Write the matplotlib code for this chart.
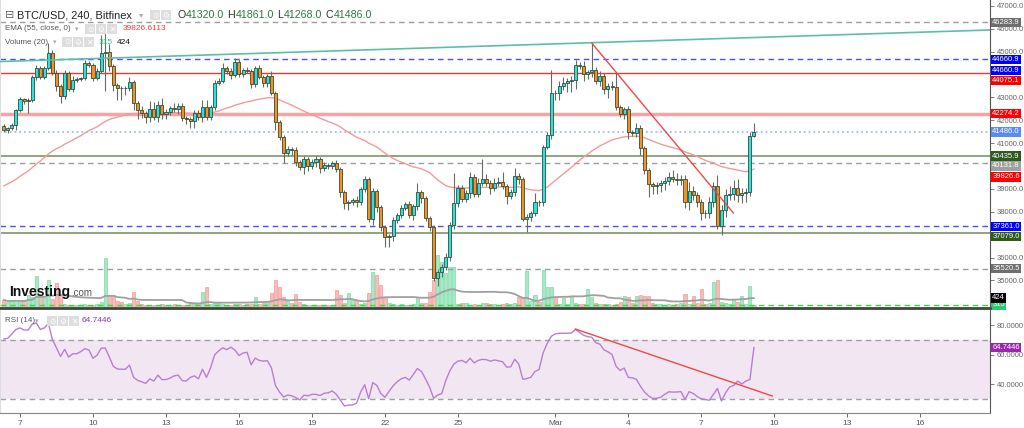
import numpy as np
import pandas as pd
import matplotlib
matplotlib.use('Agg')
import matplotlib.pyplot as plt
import matplotlib.dates as mdates
from matplotlib.patches import Rectangle

plt.rcParams['font.family'] = ['Liberation Sans', 'DejaVu Sans']

# ---- data (BTC/USD 4h candles, Bitfinex) ----
start_time = '2022-02-06 08:00'
first_open = 41750
closes = [41570, 41660, 41790, 42450, 42930, 42840, 42880, 43890, 44280, 43890,
          44280, 44930, 44060, 43490, 43060, 44060, 43360, 43760, 43800, 43840,
          44500, 44410, 43840, 44150, 44930, 44980, 44370, 43540, 43410, 43400,
          43420, 43670, 42750, 42450, 42310, 42140, 42490, 42140, 42660, 42270,
          42360, 42530, 42490, 42620, 42100, 42050, 41970, 42310, 42140, 42580,
          42140, 42580, 43620, 43710, 44280, 44150, 43970, 44540, 44020, 44190,
          44150, 43580, 44280, 43890, 43620, 43930, 43190, 41920, 41270, 40570,
          40740, 40700, 40170, 39960, 40300, 40000, 40170, 40300, 39910, 40040,
          40000, 40130, 39870, 38860, 38380, 38430, 38520, 38430, 39000, 39430,
          37690, 38910, 38210, 37340, 36900, 36940, 37640, 37860, 38170, 38340,
          37860, 38250, 38860, 38600, 37730, 37340, 35110, 35370, 35590, 36030,
          37420, 38380, 39040, 38560, 38820, 39520, 38780, 39260, 39430, 39260,
          39040, 39260, 39300, 39130, 38690, 38860, 39560, 39430, 37690, 37770,
          37950, 38430, 38420, 40830, 41350, 43190, 43170, 43490, 43620, 43710,
          43760, 44410, 44370, 44020, 44100, 44190, 43710, 43930, 43360, 43490,
          43450, 42580, 42270, 42490, 41490, 41460, 41660, 40790, 39830, 39210,
          39130, 39170, 39260, 39350, 39520, 39430, 39390, 39420, 38430, 38910,
          38730, 38430, 37950, 37940, 38430, 39130, 37380, 38080, 38730, 38780,
          39040, 38730, 38820, 38860, 41320, 41486]
wick_up = [100, 60, 80, 60, 80, 60, 80, 100, 120, 80,
           100, 440, 150, 120, 100, 150, 100, 150, 100, 60,
           150, 100, 100, 150, 790, 880, 350, 100, 100, 80,
           80, 200, 80, 100, 150, 100, 350, 300, 200, 300,
           150, 100, 200, 150, 150, 100, 100, 150, 120, 300,
           300, 100, 150, 150, 220, 100, 120, 180, 150, 100,
           120, 100, 100, 150, 100, 100, 220, 100, 100, 100,
           120, 100, 150, 100, 150, 100, 150, 120, 100, 120,
           100, 100, 150, 80, 100, 100, 100, 150, 100, 150,
           100, 120, 100, 100, 100, 100, 150, 100, 120, 100,
           150, 100, 390, 100, 100, 100, 100, 100, 150, 150,
           150, 1310, 150, 150, 150, 200, 150, 200, 870, 200,
           150, 200, 200, 450, 100, 150, 350, 150, 100, 150,
           100, 400, 100, 100, 150, 1000, 150, 200, 250, 150,
           150, 220, 150, 200, 100, 1180, 150, 200, 150, 150,
           200, 650, 100, 100, 150, 100, 200, 150, 100, 100,
           100, 150, 150, 150, 200, 300, 250, 200, 200, 400,
           200, 150, 150, 150, 200, 150, 480, 200, 250, 350,
           350, 400, 200, 200, 150, 375]
wick_dn = [100, 130, 100, 220, 80, 130, 520, 100, 150, 100,
           100, 100, 100, 200, 300, 150, 100, 150, 100, 100,
           100, 100, 150, 100, 100, 1660, 200, 260, 520, 520,
           300, 150, 300, 400, 200, 250, 200, 150, 200, 200,
           200, 150, 150, 200, 150, 200, 300, 300, 150, 200,
           150, 150, 150, 100, 100, 150, 150, 100, 150, 150,
           100, 180, 150, 100, 150, 150, 100, 350, 150, 440,
           150, 200, 150, 150, 300, 200, 150, 200, 200, 150,
           150, 150, 150, 200, 250, 300, 150, 200, 150, 150,
           150, 260, 200, 200, 440, 440, 200, 150, 150, 100,
           150, 200, 150, 200, 150, 170, 150, 350, 200, 150,
           200, 150, 150, 150, 150, 200, 150, 150, 150, 150,
           250, 150, 150, 150, 350, 150, 150, 200, 100, 570,
           150, 150, 150, 150, 100, 150, 300, 300, 150, 400,
           480, 400, 150, 300, 200, 200, 150, 200, 200, 400,
           150, 150, 150, 200, 300, 150, 200, 300, 200, 570,
           350, 350, 300, 300, 200, 150, 200, 200, 250, 350,
           200, 200, 300, 200, 200, 200, 150, 400, 300, 200,
           250, 300, 350, 400, 150, 52]
volumes = [393, 362, 378, 393, 362, 378, 471, 440, 768, 471,
           440, 705, 409, 658, 471, 331, 315, 315, 315, 315,
           331, 315, 315, 331, 362, 1048, 471, 471, 378, 362,
           331, 346, 518, 378, 331, 315, 315, 315, 315, 331,
           315, 315, 331, 315, 315, 315, 346, 346, 331, 518,
           596, 331, 362, 362, 331, 315, 315, 331, 331, 315,
           331, 331, 440, 331, 346, 362, 502, 705, 596, 440,
           378, 346, 487, 362, 331, 315, 315, 315, 315, 315,
           315, 315, 549, 471, 346, 502, 393, 378, 331, 346,
           502, 830, 783, 627, 440, 346, 331, 315, 331, 315,
           315, 331, 440, 346, 346, 518, 705, 1095, 986, 814,
           908, 908, 331, 346, 346, 315, 331, 315, 346, 346,
           331, 331, 315, 331, 346, 331, 346, 440, 440, 846,
           378, 471, 362, 861, 596, 596, 440, 331, 424, 331,
           456, 346, 331, 331, 565, 440, 346, 331, 331, 331,
           315, 331, 362, 456, 440, 346, 456, 471, 456, 456,
           346, 331, 331, 315, 331, 315, 331, 346, 487, 331,
           456, 346, 565, 331, 346, 674, 705, 362, 346, 331,
           393, 362, 456, 331, 612, 315]
rsi = [70.5, 71, 74, 77, 78, 76.6, 76.6, 80.5, 81.5, 77,
       78, 81, 70, 64.5, 58.7, 63.5, 58.2, 60.5, 60.5, 62,
       64, 63, 57.5, 59.5, 64.2, 64.5, 58.5, 52, 50.2, 50,
       50, 52.9, 44.5, 42.5, 41.5, 40.4, 43.5, 42, 46, 43,
       43, 44, 45.5, 46, 42.3, 42, 44.5, 45.5, 43.5, 50,
       44.5, 51, 59.7, 62.5, 64.5, 63.3, 65, 63, 59.3, 61,
       61.5, 53, 57.5, 56, 55.5, 55.8, 51, 39, 34.5, 31.2,
       32.5, 32, 30.8, 29.2, 32.4, 32, 33, 33, 32.2, 33.7,
       34, 35.3, 33, 29, 25.1, 25.7, 25.8, 27, 34.5, 39.5,
       30, 41, 39, 33.5, 31, 35, 38.7, 41.5, 43.5, 44.5,
       42.7, 46.5, 50.5, 48.5, 43.5, 38, 30.3, 32.5, 33.5, 42.3,
       49, 53.5, 55.5, 56, 54.4, 57.5, 54.3, 56, 56.7, 56.5,
       55.5, 56.3, 55.7, 55.1, 51.5, 51.6, 56.8, 53.5, 43.2, 43.7,
       44.6, 48.5, 49.8, 61, 67.5, 72.3, 74, 74.4, 74.4, 74.4,
       74.6, 77, 75, 73, 72.1, 71.7, 68, 67, 63.2, 61.8,
       60, 52, 49.2, 50.8, 44.5, 44.2, 43.2, 38.5, 34.6, 32,
       30.3, 30.3, 31, 33, 34.7, 34.5, 34.6, 34.8, 29.5, 34.8,
       33.6, 31.5, 30, 29.5, 29, 33, 37, 28.5, 34, 38,
       39, 42, 40, 42, 43, 64.7446]
ema_seed = 39040  # EMA(55) level at the left edge of the chart

# price ticks that are visible on the right axis (others sit under the label boxes)
price_ticks = [35000, 36000, 38000, 39000, 41000, 42000, 43000, 45000, 46000, 47000]
rsi_ticks = [40, 60, 80]

# horizontal drawings: value, line colour, style, width, label box colour, label shift (px)
levels = [46283.9, 44660.9, 44075.1, 42274.2, 41486.0, 40435.9, 40131.8, 37361.0, 37079.0, 35520.5]
level_colors = ['#9e9e9e', '#4d4dff', '#e53935', '#f6a3a3', '#a9b9ee', '#7d956c', '#9e9e9e', '#4d4dff', '#7d956c', '#9e9e9e']
level_styles = ['--', '--', '-', '-', ':', '-', '--', '--', '-', '--']
level_widths = [1, 1, 1, 2.5, 1.3, 1.2, 1, 1, 1.2, 1]
label_colors = ['#6e6e6e', '#0000ff', '#ff0000', '#ff0000', '#5b8def', '#2e5a1c', '#a0a0a0', '#0000ff', '#2e5a1c', '#6e6e6e']
label_shift = [0, 0, 8, 0, 0, 0, 3, 0, 4, 0]

# trend lines (time, value)
teal_line = (['2022-02-06 04:00', '2022-03-18 21:00'], [44560, 45940])
red_line = (['2022-03-02 12:00', '2022-03-08 07:40'], [45370, 37950])
rsi_line = (['2022-03-01 19:45', '2022-03-09 22:00'], [77.3, 31.9])

tick_dates = ['2022-02-07', '2022-02-10', '2022-02-13', '2022-02-16', '2022-02-19', '2022-02-22',
              '2022-02-25', '2022-03-01', '2022-03-04', '2022-03-07', '2022-03-10', '2022-03-13', '2022-03-16']
tick_labels = ['7', '10', '13', '16', '19', '22', '25', 'Mar', '4', '7', '10', '13', '16']

header_ohlc = [('O', '41320.0'), ('H', '41861.0'), ('L', '41268.0'), ('C', '41486.0')]
ema_value = '39826.6113'
vol_last, vol_ma = 315, 424
rsi_value = 64.7446

# ---- derived series ----
closes = np.array(closes, dtype=float)
opens = np.concatenate([[first_open], closes[:-1]])
highs = np.maximum(opens, closes) + np.array(wick_up)
lows = np.minimum(opens, closes) - np.array(wick_dn)
up = closes >= opens
times = pd.date_range(start_time, periods=len(closes), freq='4h')
xs = mdates.date2num(times)

ema = []
prev = ema_seed
for c in closes:
    prev = prev + 2.0 / 56 * (c - prev)
    ema.append(prev)
vol_sma = pd.Series(volumes, dtype=float).rolling(20, min_periods=1).mean()

# ---- figure ----
W, H = 1024, 428
fig = plt.figure(figsize=(W / 100, H / 100), dpi=100)
renderer = fig.canvas.get_renderer()


def box(x0, y0, x1, y1):
    return [x0 / W, 1 - y1 / H, (x1 - x0) / W, (y1 - y0) / H]


def fx(x):
    return x / W


def fy(y):
    return 1 - y / H


day_px = 24.33
x_left = mdates.date2num(pd.Timestamp('2022-02-07')) - 20 / day_px
x_right = x_left + 990 / day_px

vol_ax = fig.add_axes(box(0, 0, 990, 308))
ax = fig.add_axes(box(0, 0, 990, 308))
rsi_ax = fig.add_axes(box(0, 310, 990, 413))
ax.patch.set_alpha(0)

# volume
vcol = np.where(up, '#a6e9c6', '#f8bdb9')
vedge = np.where(up, '#7fd8a8', '#f19c97')
vol_ax.bar(xs, volumes, width=0.13, color=vcol, edgecolor=vedge, linewidth=0.5)
vol_ax.plot(xs, vol_sma, color='#a0a0a0', lw=1.3)
vol_ax.axhline(vol_last, color='#33dd33', lw=1, ls=(0, (4, 3)))
vol_ax.set_ylim(268, 5067)
vol_ax.set_xlim(x_left, x_right)
vol_ax.axis('off')

# levels
for v, c, s, w in zip(levels, level_colors, level_styles, level_widths):
    if s == '--':
        ax.axhline(v, color=c, lw=w, ls=(0, (4, 3)), zorder=1)
    else:
        ax.axhline(v, color=c, lw=w, ls=s, zorder=1)

# EMA
ax.plot(xs, ema, color='#f59a9a', lw=1, zorder=2)

# candles
ax.vlines(xs, lows, highs, color='#5f705f', lw=0.8, zorder=3)
body_lo = np.minimum(opens, closes)
body_h = np.maximum(np.abs(closes - opens), 8)
ax.bar(xs, body_h, bottom=body_lo, width=0.125, color=np.where(up, '#22e6df', '#f5921c'),
       edgecolor='#3b4a3b', linewidth=0.6, zorder=4)

# trend lines
ax.plot(mdates.date2num(pd.to_datetime(teal_line[0])), teal_line[1], color='#5cbfa8', lw=1.2, zorder=5)
ax.plot(mdates.date2num(pd.to_datetime(red_line[0])), red_line[1], color='#f04848', lw=1, zorder=5)

ax.set_xlim(x_left, x_right)
ax.set_ylim(33799, 47249)
ax.yaxis.tick_right()
ax.set_yticks(price_ticks)
ax.yaxis.set_major_formatter(plt.FormatStrFormatter('%.1f'))
ax.tick_params(axis='y', labelsize=5.5, colors='#666666', length=3, pad=2, width=0.6)
ax.set_xticks([])
ax.spines['top'].set_visible(False)
ax.spines['left'].set_color('#dddddd')
ax.spines['right'].set_color('#555555')
ax.spines['bottom'].set_color('#444444')
ax.spines['bottom'].set_linewidth(2)


def price_label(axis, value, text, color, shift=0, tcolor='white'):
    axis.annotate(text, xy=(1, value), xycoords=axis.get_yaxis_transform(),
                  xytext=(1.6, -shift * 0.72), textcoords='offset points',
                  ha='left', va='center', fontsize=5.5, color=tcolor,
                  bbox=dict(boxstyle='square,pad=0.14', fc=color, ec='none'),
                  annotation_clip=False, zorder=10)


for v, c, sh in zip(levels, label_colors, label_shift):
    price_label(ax, v, f'{v:.1f}', c, sh)
price_label(ax, levels[1], f'{levels[1]:.1f}', '#0000ff', 11)
price_label(ax, float(ema_value), f'{float(ema_value):.1f}', '#ff0000', 7)
price_label(vol_ax, vol_last, str(vol_last), '#2ecc71', 0)
price_label(vol_ax, vol_ma, str(vol_ma), '#000000', 0)

# RSI panel
rsi_ax.axhspan(30, 70, color='#f3e6f3', lw=0)
rsi_ax.axhline(70, color='#a0a0a0', lw=1, ls=(0, (4, 3)))
rsi_ax.axhline(30, color='#a0a0a0', lw=1, ls=(0, (4, 3)))
rsi_ax.plot(xs, rsi, color='#b77fd0', lw=1)
rsi_ax.plot(mdates.date2num(pd.to_datetime(rsi_line[0])), rsi_line[1], color='#f04848', lw=1)
rsi_ax.set_xlim(x_left, x_right)
rsi_ax.set_ylim(20.34, 90.17)
rsi_ax.yaxis.tick_right()
rsi_ax.set_yticks(rsi_ticks)
rsi_ax.yaxis.set_major_formatter(plt.FormatStrFormatter('%.4f'))
rsi_ax.tick_params(axis='y', labelsize=5.5, colors='#666666', length=3, pad=2, width=0.6)
rsi_ax.set_xticks(mdates.date2num(pd.to_datetime(tick_dates)))
rsi_ax.set_xticklabels(tick_labels)
rsi_ax.tick_params(axis='x', labelsize=6, colors='#555555', length=3, pad=2, width=0.6)
rsi_ax.spines['top'].set_visible(False)
rsi_ax.spines['left'].set_color('#dddddd')
rsi_ax.spines['right'].set_color('#555555')
rsi_ax.spines['bottom'].set_color('#888888')
price_label(rsi_ax, rsi_value, f'{rsi_value:.4f}', '#9b27af', 0)


# ---- header texts ----
def icons(x0, y0, n):
    for k in range(n):
        fig.patches.append(Rectangle((fx(x0 + k * 11), fy(y0 + 10)), 10 / W, 10 / H,
                                     transform=fig.transFigure, fc='#dedede', ec='none', zorder=20))
    for k, g in enumerate(['⊙', '⚙', '✕'][:n]):
        fig.text(fx(x0 + k * 11 + 5), fy(y0 + 5), g, fontsize=5.5, color='white',
                 ha='center', va='center', family='DejaVu Sans', zorder=21)


fig.text(fx(5), fy(15), '⊟', fontsize=8, color='#666666', va='center', family='DejaVu Sans')
fig.text(fx(17), fy(15), 'BTC/USD, 240, Bitfinex', fontsize=7.9, color='#222222', va='center')
fig.text(fx(139), fy(15), '▾', fontsize=6, color='#aaaaaa', va='center', family='DejaVu Sans')
icons(150, 10, 2)
ox = 177
for letter, val in header_ohlc:
    t1 = fig.text(fx(ox), fy(15), letter, fontsize=7.7, color='#333333', va='center')
    w1 = t1.get_window_extent(renderer).width
    t2 = fig.text(fx(ox + w1 + 0.5), fy(15), val, fontsize=7.7, color='#2b7a45', va='center')
    w2 = t2.get_window_extent(renderer).width
    ox += w1 + 0.5 + w2 + 3.5

fig.text(fx(5), fy(29), 'EMA (55, close, 0)', fontsize=5.8, color='#555555', va='center')
fig.text(fx(75), fy(29), '▾', fontsize=5, color='#aaaaaa', va='center', family='DejaVu Sans')
icons(85, 24, 3)
fig.text(fx(123), fy(29), ema_value, fontsize=6, color='#f23c3c', va='center')

fig.text(fx(5), fy(42), 'Volume (20)', fontsize=5.8, color='#555555', va='center')
fig.text(fx(53), fy(42), '▾', fontsize=5, color='#aaaaaa', va='center', family='DejaVu Sans')
icons(62, 37, 3)
fig.text(fx(99), fy(42), str(vol_last), fontsize=6, color='#2ecc8a', va='center')
fig.text(fx(117), fy(42), str(vol_ma), fontsize=6, color='#111111', va='center')

fig.text(fx(5), fy(321), 'RSI (14)', fontsize=5.8, color='#555555', va='center')
fig.text(fx(35), fy(321), '▾', fontsize=5, color='#aaaaaa', va='center', family='DejaVu Sans')
icons(47, 316, 3)
fig.text(fx(82), fy(321), f'{rsi_value:.4f}', fontsize=6, color='#9b30b0', va='center')

# logo
fig.text(fx(9), fy(292), 'Investing', fontsize=10, fontweight='bold', color='#111111', va='center', zorder=30)
fig.text(fx(71), fy(293), '.com', fontsize=7, color='#555555', va='center', zorder=30)

fig.savefig('out.png', dpi=100)
